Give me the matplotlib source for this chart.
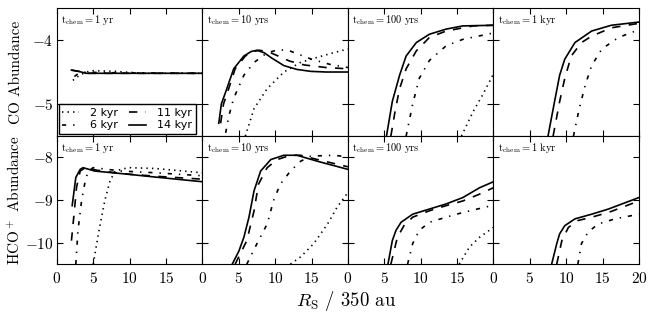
import numpy as np
import matplotlib
matplotlib.use("Agg")
import matplotlib.pyplot as plt

plt.rcParams['font.family'] = 'serif'
plt.rcParams['font.serif'] = ['cmr10']
plt.rcParams['mathtext.fontset'] = 'cm'
plt.rcParams['axes.formatter.use_mathtext'] = True
plt.rcParams['axes.unicode_minus'] = True
plt.rcParams['lines.scale_dashes'] = False

ages = ["2 kyr", "6 kyr", "11 kyr", "14 kyr"]
styles = [(0, (1, 3)), (0, (3, 5, 1, 5)), (0, (6, 6)), "-"]
tchem_labels = ["1 yr", "10 yrs", "100 yrs", "1 kyr"]

# CO abundance, one dict per t_chem: age -> (R_S, log abundance)
co_1yr = {
    "2 kyr": ([2.2, 3.0, 4.0, 5.0, 8.0, 12.0, 20.0], [-4.63, -4.56, -4.50, -4.48, -4.49, -4.52, -4.52]),
    "6 kyr": ([2.4, 3.0, 4.0, 6.0, 20.0], [-4.57, -4.52, -4.50, -4.51, -4.52]),
    "11 kyr": ([2.0, 3.0, 4.0, 6.0, 20.0], [-4.47, -4.49, -4.52, -4.52, -4.52]),
    "14 kyr": ([2.0, 3.0, 4.0, 20.0], [-4.47, -4.49, -4.52, -4.52]),
}
co_10yrs = {
    "2 kyr": ([5.9, 7.1, 8.9, 11.2, 13.5, 15.8, 18.0, 20.0], [-5.5, -5.07, -4.76, -4.50, -4.35, -4.27, -4.20, -4.14]),
    "6 kyr": ([3.2, 3.6, 4.3, 5.7, 7.1, 8.9, 10.5, 12.0, 15.0, 17.5, 20.0],
              [-5.45, -5.2, -4.91, -4.55, -4.35, -4.20, -4.15, -4.17, -4.30, -4.38, -4.43]),
    "11 kyr": ([2.5, 2.9, 3.5, 4.5, 5.9, 7.0, 7.8, 9.0, 10.0, 12.0, 14.0, 17.0, 20.0],
               [-5.3, -5.0, -4.8, -4.45, -4.25, -4.18, -4.16, -4.18, -4.23, -4.33, -4.39, -4.43, -4.45]),
    "14 kyr": ([2.25, 2.6, 3.2, 4.3, 5.7, 6.7, 7.5, 8.5, 9.5, 11.2, 13.0, 14.9, 17.0, 20.0],
               [-5.30, -5.0, -4.81, -4.45, -4.25, -4.18, -4.16, -4.20, -4.28, -4.40, -4.46, -4.49, -4.50, -4.50]),
}
co_100yrs = {
    "2 kyr": ([15.6, 17.2, 18.5, 20.0], [-5.5, -5.12, -4.86, -4.53]),
    "6 kyr": ([8.0, 8.9, 9.8, 11.2, 13.5, 15.8, 20.0], [-5.5, -5.0, -4.6, -4.32, -4.09, -3.99, -3.89]),
    "11 kyr": ([5.9, 6.5, 7.1, 8.0, 9.4, 11.2, 13.5, 17.2, 20.0],
               [-5.5, -5.1, -4.76, -4.45, -4.17, -3.96, -3.86, -3.78, -3.77]),
    "14 kyr": ([5.3, 6.1, 7.1, 8.0, 9.4, 11.2, 13.5, 15.8, 20.0],
               [-5.5, -4.96, -4.55, -4.25, -4.04, -3.91, -3.83, -3.78, -3.77]),
}
co_1kyr = {
    "2 kyr": ([], []),
    "6 kyr": ([11.0, 11.7, 12.6, 13.5, 14.9, 17.2, 20.0], [-5.5, -5.12, -4.71, -4.40, -4.14, -3.96, -3.84]),
    "11 kyr": ([8.2, 9.1, 9.8, 10.7, 12.1, 13.5, 16.2, 20.0], [-5.5, -4.96, -4.60, -4.25, -4.04, -3.94, -3.81, -3.74]),
    "14 kyr": ([7.5, 8.4, 9.1, 9.8, 11.2, 13.5, 16.2, 20.0], [-5.5, -4.96, -4.55, -4.30, -4.04, -3.86, -3.77, -3.72]),
}

# HCO+ abundance
hco_1yr = {
    "2 kyr": ([5.0, 5.7, 6.6, 7.3, 8.0, 9.8, 13.5, 20.0], [-10.5, -9.79, -9.0, -8.55, -8.32, -8.24, -8.26, -8.36]),
    "6 kyr": ([2.6, 2.9, 3.4, 3.9, 4.3, 5.0, 8.9, 13.5, 20.0], [-10.5, -9.71, -9.0, -8.55, -8.32, -8.24, -8.32, -8.36, -8.43]),
    "11 kyr": ([2.0, 2.4, 2.7, 3.2, 3.9, 5.5, 8.9, 13.5, 20.0], [-9.95, -9.25, -8.70, -8.32, -8.24, -8.30, -8.38, -8.44, -8.51]),
    "14 kyr": ([2.1, 2.6, 3.2, 3.6, 5.2, 8.9, 13.5, 20.0], [-9.13, -8.47, -8.28, -8.24, -8.32, -8.38, -8.46, -8.57]),
}
hco_10yrs = {
    "2 kyr": ([12.1, 13.5, 15.3, 17.2, 18.5, 20.0], [-10.5, -10.33, -10.02, -9.56, -9.17, -8.82]),
    "6 kyr": ([6.1, 7.5, 8.9, 9.8, 10.7, 12.1, 13.5, 14.9, 18.1, 20.0],
              [-10.5, -10.02, -9.56, -9.0, -8.63, -8.32, -8.09, -7.97, -7.95, -7.99]),
    "11 kyr": ([4.5, 6.1, 7.1, 7.7, 8.9, 10.3, 12.1, 13.5, 15.8, 20.0],
               [-10.5, -9.95, -9.25, -8.63, -8.24, -8.05, -7.95, -7.95, -8.05, -8.22]),
    "14 kyr": ([4.1, 5.0, 5.7, 6.4, 7.1, 8.0, 9.4, 11.2, 13.0, 15.8, 20.0],
               [-10.5, -10.2, -9.87, -9.4, -8.78, -8.32, -8.05, -7.95, -7.95, -8.09, -8.28]),
}
hco_100yrs = {
    "2 kyr": ([15.3, 16.7, 18.1, 20.0], [-10.5, -10.1, -9.87, -9.64]),
    "6 kyr": ([8.2, 8.9, 9.8, 11.2, 13.5, 15.8, 20.0], [-10.5, -10.02, -9.71, -9.52, -9.40, -9.29, -9.12]),
    "11 kyr": ([5.9, 6.8, 7.7, 8.9, 11.2, 13.5, 15.8, 18.1, 20.0],
               [-10.5, -9.87, -9.6, -9.4, -9.25, -9.13, -9.02, -8.86, -8.71]),
    "14 kyr": ([5.5, 6.1, 6.6, 7.3, 8.9, 11.2, 13.5, 15.8, 18.1, 20.0],
               [-10.5, -9.95, -9.71, -9.52, -9.33, -9.21, -9.09, -8.94, -8.71, -8.57]),
}
hco_1kyr = {
    "2 kyr": ([], []),
    "6 kyr": ([11.6, 12.1, 13.0, 14.4, 16.7, 20.0], [-10.5, -10.02, -9.75, -9.56, -9.44, -9.33]),
    "11 kyr": ([8.7, 9.4, 10.3, 11.6, 13.5, 15.8, 20.0], [-10.5, -9.95, -9.64, -9.48, -9.40, -9.29, -9.02]),
    "14 kyr": ([8.0, 8.7, 9.1, 9.8, 11.2, 13.5, 15.8, 20.0], [-10.5, -10.02, -9.79, -9.6, -9.44, -9.33, -9.21, -8.94]),
}

co_panels = [co_1yr, co_10yrs, co_100yrs, co_1kyr]
hco_panels = [hco_1yr, hco_10yrs, hco_100yrs, hco_1kyr]

fig, axes = plt.subplots(2, 4, figsize=(6.54, 3.19), dpi=100)
fig.subplots_adjust(left=0.087, right=0.977, top=0.975, bottom=0.172, wspace=0, hspace=0)

for row, panels in enumerate([co_panels, hco_panels]):
    for col, data in enumerate(panels):
        ax = axes[row, col]
        for age, ls in zip(ages, styles):
            x, y = data[age]
            ax.plot(x, y, color='k', ls=ls, lw=1.2, label=age)
        ax.set_xlim(0, 20)
        if row == 0:
            ax.set_ylim(-5.5, -3.5)
            ax.set_yticks([-5, -4])
        else:
            ax.set_ylim(-10.5, -7.5)
            ax.set_yticks([-10, -9, -8])
        if col == 3:
            ax.set_xticks([0, 5, 10, 15, 20])
        else:
            ax.set_xticks([0, 5, 10, 15])
        ax.tick_params(direction='in', top=True, right=True, labelsize=11, length=4.5)
        ax.tick_params(axis='y', pad=2.5)
        ax.tick_params(axis='x', pad=5)
        if row == 0:
            ax.tick_params(labelbottom=False)
        if col != 0:
            ax.tick_params(labelleft=False)
        ax.text(0.03, 0.96, r"$\mathrm{t_{chem}} = \mathrm{" + tchem_labels[col].replace(" ", r"\ ") + "}$",
                transform=ax.transAxes, ha='left', va='top', fontsize=7.5)

axes[0, 0].set_ylabel("CO Abundance", fontsize=11)
axes[1, 0].set_ylabel(r"HCO$^+$ Abundance", fontsize=11)
for ax in axes[:, 0]:
    ax.yaxis.set_label_coords(-0.235, 0.5)
axes[0, 0].legend(loc='lower left', ncol=2, prop={'family': 'DejaVu Sans', 'size': 8},
                  handlelength=1.5, handletextpad=1.0, columnspacing=1.0, borderaxespad=0.15,
                  fancybox=False, edgecolor='k', framealpha=1, labelspacing=0.25, borderpad=0.35)
fig.text(0.53, 0.055, r"$R_{\rm S}$ / 350 au", ha='center', va='center', fontsize=13.5)

fig.savefig("out.png", dpi=100)
